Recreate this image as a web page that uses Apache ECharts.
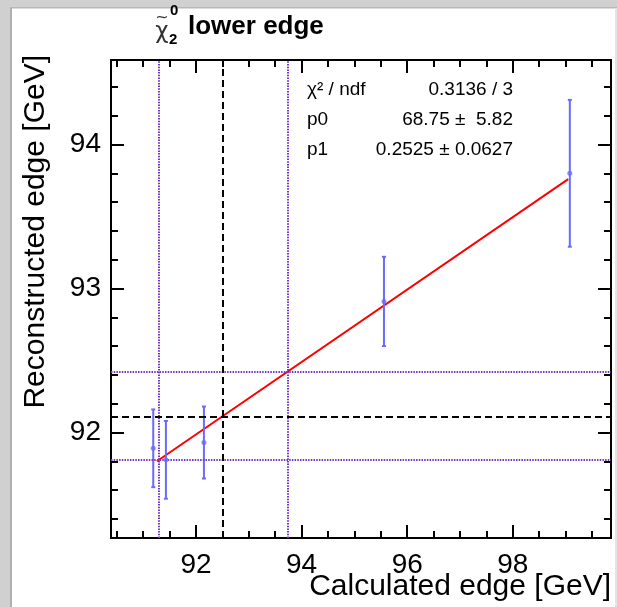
<!DOCTYPE html>
<html>
<head>
<meta charset="utf-8">
<script src="https://cdn.jsdelivr.net/npm/echarts@6/dist/echarts.min.js"></script>
<style>
html,body{margin:0;padding:0;background:#fff;}
#main{width:617px;height:607px;}
</style>
</head>
<body>
<div id="main"></div>
<script>
// ---- data ----
const xVals = [91.19, 91.43, 92.15, 95.56, 99.08];
const yVals = [91.89, 91.81, 91.93, 92.91, 93.80];
const yErrs = [0.27, 0.27, 0.25, 0.31, 0.51];

const fitX = [91.26, 99.05];
const fitY = [91.80, 93.76];

const purpleVLines = [91.29, 93.74];
const blackVLines = [92.51];
const purpleHLines = [91.81, 92.42];
const blackHLines = [92.115];

const xRange = [90.39, 99.86];
const yRange = [91.267, 94.587];
const xMajorTicks = [92, 94, 96, 98];
const xMinorTicks = [90.5, 91, 91.5, 92.5, 93, 93.5, 94.5, 95, 95.5, 96.5, 97, 97.5, 98.5, 99, 99.5];
const yMajorTicks = [92, 93, 94];
const yMinorTicks = [91.4, 91.6, 91.8, 92.2, 92.4, 92.6, 92.8, 93.2, 93.4, 93.6, 93.8, 94.2, 94.4];

const statNames = ['\u03C7\u00B2 / ndf', 'p0', 'p1'];
const statValues = ['0.3136 / 3', '68.75 \u00B1  5.82', '0.2525 \u00B1 0.0627'];

const titleText = 'lower edge';
const xTitle = 'Calculated edge [GeV]';
const yTitle = 'Reconstructed edge [GeV]';

// ---- chart ----
const FONT = "'Liberation Sans', Arial, Helvetica, sans-serif";
const chart = echarts.init(document.getElementById('main'), null, {renderer: 'canvas'});

function mkX(pos, ticks, len, labels) {
  return {
    type: 'value', gridIndex: 0, position: pos, min: xRange[0], max: xRange[1],
    axisLine: {show: false},
    splitLine: {show: false},
    axisTick: {show: true, inside: true, length: len, customValues: ticks,
               lineStyle: {color: '#000', width: 2}},
    axisLabel: labels ? {show: true, customValues: ticks, margin: 13, fontSize: 28,
               fontFamily: FONT, color: '#000'} : {show: false}
  };
}
function mkY(pos, ticks, len, labels) {
  return {
    type: 'value', gridIndex: 0, position: pos, min: yRange[0], max: yRange[1],
    axisLine: {show: false},
    splitLine: {show: false},
    axisTick: {show: true, inside: true, length: len, customValues: ticks,
               lineStyle: {color: '#000', width: 2}},
    axisLabel: labels ? {show: true, customValues: ticks, margin: 10, fontSize: 28,
               fontFamily: FONT, color: '#000'} : {show: false}
  };
}

const points = xVals.map((x, i) => [x, yVals[i], yErrs[i]]);
const PURPLE = '#7438c0';

const option = {
  animation: false,
  backgroundColor: '#ffffff',
  grid: {left: 111, top: 60, right: 6, bottom: 69, show: true,
         borderColor: '#000', borderWidth: 2, backgroundColor: 'transparent',
         containLabel: false, outerBoundsMode: 'none'},
  xAxis: [
    mkX('bottom', xMajorTicks, 13, true),
    mkX('bottom', xMinorTicks, 7, false),
    mkX('top', xMajorTicks, 13, false),
    mkX('top', xMinorTicks, 7, false)
  ],
  yAxis: [
    mkY('left', yMajorTicks, 13, true),
    mkY('left', yMinorTicks, 7, false),
    mkY('right', yMajorTicks, 13, false),
    mkY('right', yMinorTicks, 7, false)
  ],
  series: [
    {
      type: 'line', xAxisIndex: 0, yAxisIndex: 0, silent: true,
      data: [],
      markLine: {
        silent: true, symbol: 'none', label: {show: false},
        data: [
          ...purpleVLines.map(v => ({xAxis: v, lineStyle: {color: PURPLE, width: 2, type: [1.5, 1.2]}})),
          ...purpleHLines.map(v => ({yAxis: v, lineStyle: {color: PURPLE, width: 2, type: [1.5, 1.2]}})),
          ...blackVLines.map(v => ({xAxis: v, lineStyle: {color: '#000', width: 2, type: [7, 4]}})),
          ...blackHLines.map(v => ({yAxis: v, lineStyle: {color: '#000', width: 2, type: [7, 4]}}))
        ]
      }
    },
    {
      type: 'line', xAxisIndex: 0, yAxisIndex: 0, silent: true,
      data: fitX.map((x, i) => [x, fitY[i]]),
      symbol: 'none', lineStyle: {color: '#ff0000', width: 2}, z: 3
    },
    {
      type: 'custom', xAxisIndex: 0, yAxisIndex: 0, silent: true, z: 4,
      data: points,
      renderItem: function (params, api) {
        const x = api.value(0), y = api.value(1), e = api.value(2);
        const top = api.coord([x, y + e]);
        const bot = api.coord([x, y - e]);
        const c = '#6a6aff';
        return {
          type: 'group',
          children: [
            {type: 'line', shape: {x1: top[0], y1: top[1], x2: bot[0], y2: bot[1]},
             style: {stroke: c, lineWidth: 2}},
            {type: 'line', shape: {x1: top[0] - 2, y1: top[1], x2: top[0] + 2, y2: top[1]},
             style: {stroke: c, lineWidth: 2}},
            {type: 'line', shape: {x1: bot[0] - 2, y1: bot[1], x2: bot[0] + 2, y2: bot[1]},
             style: {stroke: c, lineWidth: 2}}
          ]
        };
      }
    },
    {
      type: 'scatter', xAxisIndex: 0, yAxisIndex: 0, silent: true, z: 5,
      data: points.map(p => [p[0], p[1]]),
      symbol: 'circle', symbolSize: 5, itemStyle: {color: '#6a6aff'}
    }
  ],
  graphic: [
    // window border (screenshot frame)
    {type: 'rect', shape: {x: 0, y: 0, width: 617, height: 8}, style: {fill: '#d0d0d0'}, silent: true},
    {type: 'rect', shape: {x: 0, y: 7, width: 617, height: 1.5}, style: {fill: '#b8b8b8'}, silent: true},
    {type: 'rect', shape: {x: 0, y: 0, width: 10, height: 607}, style: {fill: '#d0d0d0'}, silent: true},
    {type: 'rect', shape: {x: 10, y: 8, width: 2, height: 599}, style: {fill: '#b0b0b0'}, silent: true},
    {type: 'rect', shape: {x: 615, y: 8, width: 2, height: 599}, style: {fill: '#e4e4e4'}, silent: true},
    // title
    {type: 'text', x: 162, y: 32, silent: true,
     style: {text: '\u03C7', font: "23px 'DejaVu Sans', sans-serif", fill: '#333', align: 'center', verticalAlign: 'middle'}},
    {type: 'text', x: 162, y: 18, silent: true,
     style: {text: '~', font: "16px 'DejaVu Sans', sans-serif", fill: '#333', align: 'center', verticalAlign: 'middle'}},
    {type: 'text', x: 170, y: 11, silent: true,
     style: {text: '0', font: "bold 15px " + FONT, fill: '#000', align: 'left', verticalAlign: 'middle'}},
    {type: 'text', x: 169, y: 40, silent: true,
     style: {text: '2', font: "bold 15px " + FONT, fill: '#000', align: 'left', verticalAlign: 'middle'}},
    {type: 'text', x: 188, y: 27, silent: true,
     style: {text: titleText, font: "bold 26px " + FONT, fill: '#000', align: 'left', verticalAlign: 'middle'}},
    // axis titles
    {type: 'text', x: 611, y: 587, silent: true,
     style: {text: xTitle, font: "30px " + FONT, fill: '#000', align: 'right', verticalAlign: 'middle'}},
    {type: 'text', x: 36, y: 55, rotation: Math.PI / 2, silent: true,
     style: {text: yTitle, font: "30px " + FONT, fill: '#000', align: 'right', verticalAlign: 'middle'}},
    // stats box
    ...statNames.map((t, i) => ({type: 'text', x: 307, y: 90 + i * 30, silent: true,
      style: {text: t, font: "19px " + FONT, fill: '#000', align: 'left', verticalAlign: 'middle'}})),
    ...statValues.map((t, i) => ({type: 'text', x: 513, y: 90 + i * 30, silent: true,
      style: {text: t, font: "19px " + FONT, fill: '#000', align: 'right', verticalAlign: 'middle'}}))
  ]
};
chart.setOption(option);
</script>
</body>
</html>
